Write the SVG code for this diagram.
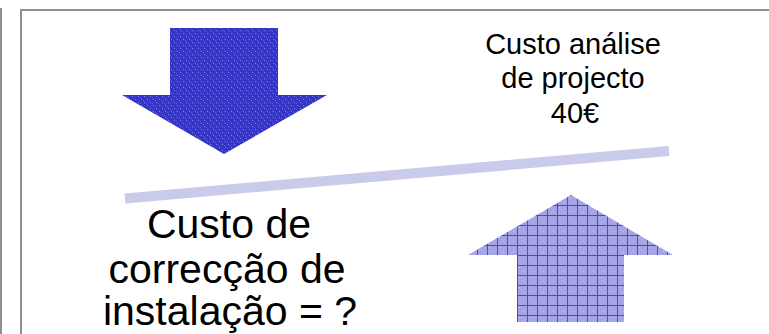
<svg xmlns="http://www.w3.org/2000/svg" width="769" height="334" viewBox="0 0 769 334">
  <style>
    .frame { fill: none; stroke: #909090; stroke-width: 2; }
    .t { font-family: "Liberation Sans", "DejaVu Sans", sans-serif; fill: #000; text-anchor: middle; }
    .small { font-size: 29px; }
    .big { font-size: 41px; }
  </style>
  <defs>
    <pattern id="dots" width="6" height="6" patternUnits="userSpaceOnUse">
      <rect width="6" height="6" fill="#3434c8"/>
      <rect x="0" y="0" width="1" height="1" fill="#8080e0"/>
      <rect x="3" y="3" width="1" height="1" fill="#8080e0"/>
      <rect x="2" y="1" width="1" height="1" fill="#5a5ad6"/>
      <rect x="5" y="4" width="1" height="1" fill="#5a5ad6"/>
    </pattern>
    <pattern id="grid" x="517" y="195" width="10" height="10" patternUnits="userSpaceOnUse">
      <rect width="10" height="10" fill="#a4a4e6"/>
      <rect x="2" y="2" width="1" height="1" fill="#c4c4f0"/>
      <rect x="6" y="6" width="1" height="1" fill="#c4c4f0"/>
      <path d="M0 0.5H10M0.5 0V10" stroke="#4a4ad0" stroke-width="1"/>
    </pattern>
  </defs>
  <g id="frame">
    <line x1="1" y1="8" x2="1" y2="334" class="frame"/>
    <rect x="21" y="10" width="800" height="400" class="frame"/>
  </g>
  <g id="arrow-down">
    <polygon points="170,28 278,28 278,95 327,95 224,154 122,95 170,95" fill="url(#dots)"/>
  </g>
  <g id="arrow-up">
    <polygon points="571,195 673,255 624,255 624,322 517,322 517,255 468,255" fill="url(#grid)"/>
  </g>
  <g id="connectors">
    <line x1="125" y1="198.5" x2="669" y2="151" stroke="#cacaea" stroke-width="10"/>
  </g>
  <g id="label-analise">
    <text class="t small" x="573" y="54">Custo análise</text>
    <text class="t small" x="573" y="88">de projecto</text>
    <text class="t small" x="575" y="123">40€</text>
  </g>
  <g id="label-correccao">
    <text class="t big" x="229" y="238">Custo de</text>
    <text class="t big" x="227" y="283">correcção de</text>
    <text class="t big" x="230" y="325">instalação = ?</text>
  </g>
</svg>
